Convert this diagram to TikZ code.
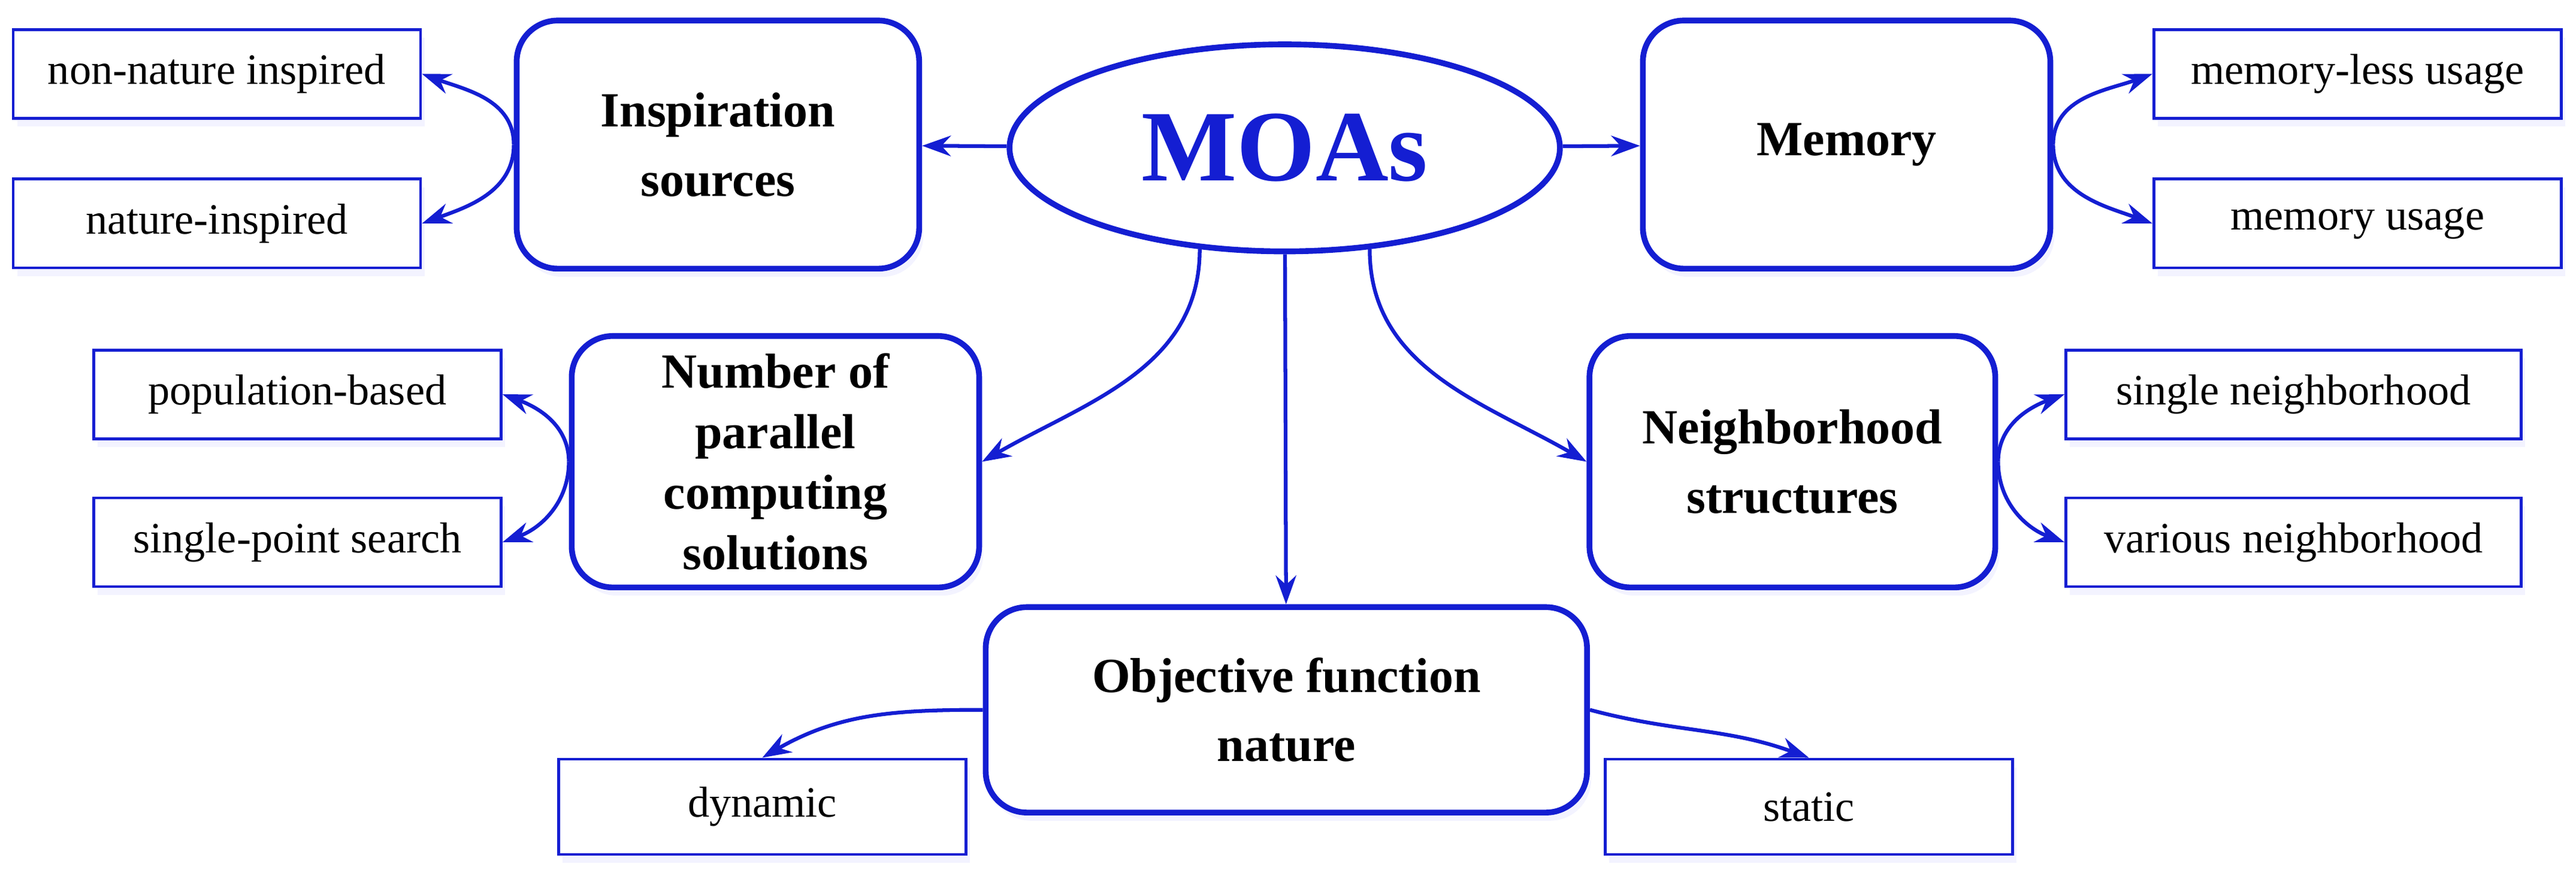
\documentclass[tikz,border=0pt]{standalone}
\usepackage{fontspec}
\setmainfont{Liberation Serif}
\usetikzlibrary{arrows.meta,shadows,shapes.geometric}
\definecolor{moablue}{RGB}{20,30,210}
\tikzset{
  leaf/.style={draw=moablue, line width=1pt, fill=white, minimum width=49.6mm, minimum height=10.8mm,
    font=\fontsize{15}{18}\selectfont, drop shadow={shadow xshift=0.5mm, shadow yshift=-1mm, fill=blue!8, opacity=0.6}},
  group/.style={draw=moablue, line width=2pt, fill=white, rounded corners=5mm, align=center,
    font=\bfseries\fontsize{17}{24}\selectfont, drop shadow={shadow xshift=0.5mm, shadow yshift=-1mm, fill=blue!8, opacity=0.6}},
  link/.style={draw=moablue, line width=1.3pt, -{Stealth[length=3.5mm, width=2.5mm]}}
}
\begin{document}
\begin{tikzpicture}[x=0.2mm, y=-0.2mm]
  \useasboundingbox (0,0) rectangle (1568,531);
  \node [draw=moablue, line width=2pt, fill=white, ellipse, minimum width=67mm, minimum height=25.2mm,
    text=moablue, font=\bfseries\fontsize{35}{40}\selectfont](moas) at (782,90) {MOAs};

  \node [group, minimum width=49mm, minimum height=30.2mm](insp) at (437,88) {Inspiration\\sources};
  \node [group, minimum width=49.6mm, minimum height=30.2mm](mem) at (1124,88) {Memory};
  \node [group, minimum width=49.6mm, minimum height=30.6mm, font=\bfseries\fontsize{17}{21}\selectfont](num) at (472,281) {Number of\\parallel\\computing\\solutions};
  \node [group, minimum width=49.4mm, minimum height=30.6mm](neigh) at (1091,281) {Neighborhood\\structures};
  \node [group, minimum width=73.2mm, minimum height=25mm](obj) at (783,432) {Objective function\\nature};

  \node [leaf](nonnat) at (132,45) {non-nature inspired};
  \node [leaf](nat) at (132,136) {nature-inspired};
  \node [leaf](memless) at (1435,45) {memory-less usage};
  \node [leaf](memuse) at (1435,136) {memory usage};
  \node [leaf](pop) at (181,240) {population-based};
  \node [leaf](single) at (181,330) {single-point search};
  \node [leaf, minimum width=55.4mm](sneigh) at (1396,240) {single neighborhood};
  \node [leaf, minimum width=55.4mm](vneigh) at (1396,330) {various neighborhood};
  \node [leaf, minimum height=11.6mm](dyn) at (464,491) {dynamic};
  \node [leaf, minimum height=11.6mm](stat) at (1101,491) {static};

  % main branches
  \draw [link] (moas) -- (insp);
  \draw [link] (moas) -- (mem);
  \draw [link] (moas) -- (obj);
  \draw [link] (moas.-130) to[out=-90, in=30] (num.east);
  \draw [link] (moas.-50) to[out=-90, in=150] (neigh.west);

  % sub branches
  \draw [link] (insp.west) to[out=90, in=-20] (nonnat.east);
  \draw [link] (insp.west) to[out=-90, in=20] (nat.east);
  \draw [link] (mem.east) to[out=90, in=200] (memless.west);
  \draw [link] (mem.east) to[out=-90, in=160] (memuse.west);
  \draw [link] (num.west) to[out=90, in=-20] (pop.east);
  \draw [link] (num.west) to[out=-90, in=20] (single.east);
  \draw [link] (neigh.east) to[out=90, in=200] (sneigh.west);
  \draw [link] (neigh.east) to[out=-90, in=160] (vneigh.west);
  \draw [link] (obj.west) to[out=180, in=30] (dyn.north);
  \draw [link] (obj.east) to[out=-15, in=160] (stat.north);
\end{tikzpicture}
\end{document}
